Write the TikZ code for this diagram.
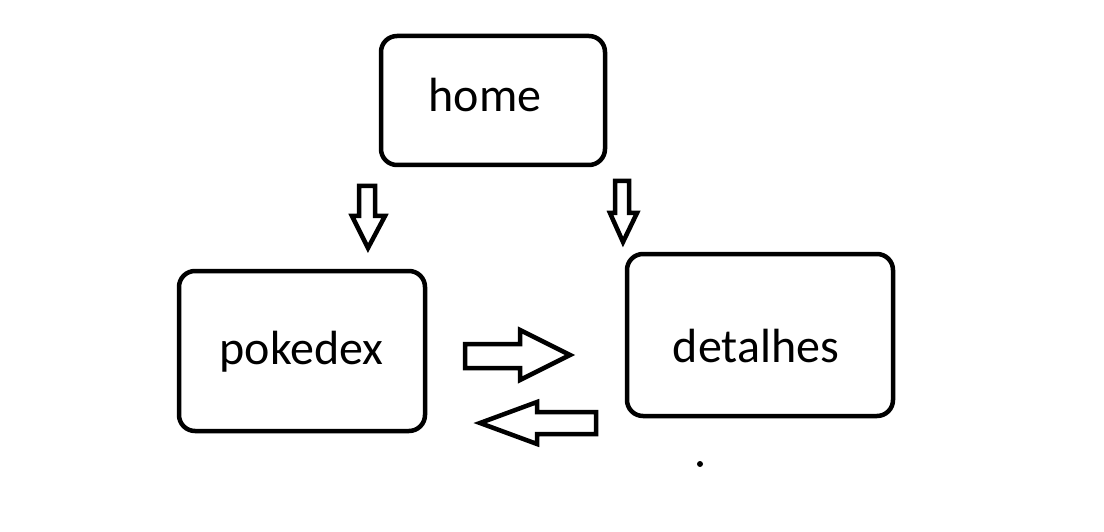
\documentclass[tikz,border=0pt]{standalone}
\usepackage{fontspec}
\setmainfont{Carlito}
\begin{document}
\begin{tikzpicture}[x=1pt,y=-1pt,
  pagebox/.style={draw=black,line width=4.5pt,rounded corners=16pt,inner sep=0pt,outer sep=0pt},
  label/.style={anchor=base,inner sep=0pt,font=\fontsize{48}{52}\selectfont},
  blockarrow/.style={draw=black,line width=4.5pt,line join=miter,fill=white}]
\useasboundingbox[fill=white] (0,0) rectangle (1104,532);
% boxes
\draw[pagebox] (381,36) rectangle (605,165);
\draw[pagebox] (179,271) rectangle (425,431);
\draw[pagebox] (627,254) rectangle (893,416);
\node[inner sep=0pt] (home) at (493,100.5) {};
\node[inner sep=0pt] (pokedex) at (302,351) {};
\node[inner sep=0pt] (detalhes) at (760,335) {};
% texts
\node[label] (homeT) at (485,112) {home};
\node[label] (pokedexT) at (301.5,364) {pokedex};
\node[label] (detalhesT) at (756,362) {detalhes};
% block arrows
\draw[blockarrow] (359,186) -- (375,186) -- (375,216) -- (385,216) -- (368,248) -- (352,216) -- (359,216) -- cycle;
\draw[blockarrow] (615,181) -- (629,181) -- (629,213) -- (637,213) -- (623,242) -- (610,213) -- (615,213) -- cycle;
\draw[blockarrow] (465,344) -- (520,344) -- (520,330) -- (570,355) -- (520,380) -- (520,368) -- (465,368) -- cycle;
\draw[blockarrow] (596,412) -- (537,412) -- (537,402) -- (480,423) -- (537,444) -- (537,434) -- (596,434) -- cycle;
% stray dot
\fill[black] (700,464) circle (3pt);
\end{tikzpicture}
\end{document}
